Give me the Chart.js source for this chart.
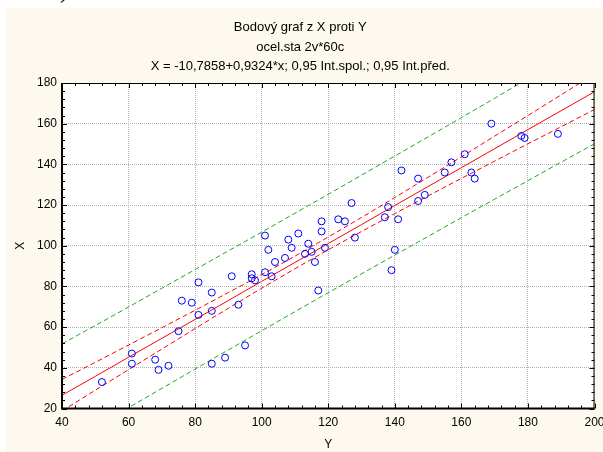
<!DOCTYPE html>
<html><head><meta charset="utf-8">
<style>
html,body{margin:0;padding:0;background:#fff;overflow:hidden}
#wrap{position:relative;width:603px;height:452px;overflow:hidden}
canvas{position:absolute;left:0;top:0}
.frag{position:absolute;font-family:'Liberation Serif',serif;font-size:28px;color:#000;line-height:28px}
</style>
<script src="https://cdn.jsdelivr.net/npm/chart.js@4/dist/chart.umd.min.js"></script>
</head><body>
<div id="wrap"><canvas id="c" width="603" height="452"></canvas>
<div class="frag" style="left:-3px;top:-28px">a.</div>
<div class="frag" style="left:60px;top:-26px">)</div>
</div>
<script>
// ---- data ----
// horizontal axis: variable Y, vertical axis: variable X (60 cases)
const varY = [52,61,61,68,69,72,75,76,79,81,81,85,85,93,85,89,95,91,97,97,98,101,102,101,103,104,107,108,109,111,113,114,115,116,118,118,119,117,123,125,127,128,137,138,141,140,139,142,147,147,149,155,157,161,163,164,169,178,179,189];
const varX = [33,47,42,44,39,41,58,73,72,82,66,77,68,71,42,45,51,85,86,84,83,105,98,87,85,92,94,103,99,106,96,101,97,92,112,107,99,78,113,112,121,104,114,119,113,98,88,137,133,122,125,136,141,145,136,133,160,154,153,155];
// band / fit values read along the horizontal axis
const bandAt   = [40,50,60,70,80,90,100,110,120,130,140,150,160,170,180,190,200];
const fitLine  = [26.5,35.8,45.2,54.5,63.8,73.1,82.5,91.8,101.1,110.4,119.8,129.1,138.4,147.7,157.1,166.4,175.7];
const confUp   = [34.3,42.7,51.2,59.7,68.3,77.0,85.8,94.9,104.3,113.9,123.7,133.7,143.7,153.9,164.0,174.2,184.4];
const confLow  = [18.8,29.0,39.1,49.2,59.3,69.3,79.1,88.7,98.0,107.0,115.8,124.5,133.1,141.6,150.1,158.5,167.0];
const predUp   = [51.8,60.8,69.9,79.1,88.3,97.5,106.7,116.0,125.3,134.7,144.1,153.5,163.0,172.5,182.1,191.6,201.3];
const predLow  = [1.3,10.8,20.4,29.9,39.4,48.8,58.2,67.6,76.9,86.2,95.4,104.6,113.8,122.9,132.0,141.1,150.1];
// axes
const xTicks = [40,60,80,100,120,140,160,180,200];
const yTicks = [20,40,60,80,100,120,140,160,180];
const titleLines = ['Bodový graf z X proti Y','ocel.sta 2v*60c','X = -10,7858+0,9324*x; 0,95 Int.spol.; 0,95 Int.před.'];
const xTitle = 'Y';
const yTitle = 'X';

const pts = (xs, ys) => xs.map((v, i) => ({x: v, y: ys[i]}));
const FONT = "'Liberation Sans', Arial, sans-serif";

const framePlugin = {
  id: 'frame',
  beforeDraw(chart) {
    const ctx = chart.ctx, a = chart.chartArea;
    ctx.save();
    ctx.fillStyle = '#ffffff';
    ctx.fillRect(0, 0, chart.width, chart.height);
    ctx.fillStyle = '#fdf9ee';
    ctx.fillRect(6, 8, chart.width - 6, chart.height - 8);
    ctx.fillStyle = '#ffffff';
    ctx.fillRect(a.left, a.top, a.right - a.left, a.bottom - a.top);
    ctx.restore();
  },
  afterDatasetsDraw(chart) {
    const ctx = chart.ctx, a = chart.chartArea, xs = chart.scales.x, ys = chart.scales.y;
    ctx.save();
    ctx.strokeStyle = '#000';
    ctx.lineWidth = 1;
    ctx.beginPath();
    for (let v = xTicks[0]; v <= xTicks[xTicks.length - 1]; v += 4) {
      const px = Math.round(xs.getPixelForValue(v)) + 0.5;
      const L = ((v - xTicks[0]) % 20 === 0) ? 5 : 3;
      ctx.moveTo(px, a.bottom); ctx.lineTo(px, a.bottom - L);
      ctx.moveTo(px, a.top); ctx.lineTo(px, a.top + L);
    }
    for (let v = yTicks[0]; v <= yTicks[yTicks.length - 1]; v += 4) {
      const py = Math.round(ys.getPixelForValue(v)) + 0.5;
      const L = ((v - yTicks[0]) % 20 === 0) ? 5 : 3;
      ctx.moveTo(a.left, py); ctx.lineTo(a.left + L, py);
      ctx.moveTo(a.right, py); ctx.lineTo(a.right - L, py);
    }
    ctx.stroke();
    ctx.beginPath();
    ctx.moveTo(a.left, a.top + 0.5); ctx.lineTo(a.right, a.top + 0.5);
    ctx.moveTo(a.right - 0.5, a.top); ctx.lineTo(a.right - 0.5, a.bottom);
    ctx.stroke();
    ctx.lineWidth = 2;
    ctx.beginPath();
    ctx.moveTo(a.left, a.top); ctx.lineTo(a.left, a.bottom + 1);
    ctx.moveTo(a.left - 1, a.bottom); ctx.lineTo(a.right, a.bottom);
    ctx.stroke();
    ctx.restore();
  }
};

const lineDs = (label, ys, color, dash) => ({
  label, data: pts(bandAt, ys), showLine: true, borderColor: color, borderWidth: 1,
  borderDash: dash, pointRadius: 0, pointHoverRadius: 0, fill: false,
  cubicInterpolationMode: 'monotone', clip: 0
});

new Chart(document.getElementById('c'), {
  type: 'scatter',
  data: {
    datasets: [
      { label: 'data', data: pts(varY, varX), pointStyle: 'circle', pointRadius: 3.5,
        pointBorderColor: '#0000ff', pointBackgroundColor: 'rgba(0,0,0,0)', pointBorderWidth: 1,
        borderColor: '#0000ff', backgroundColor: 'rgba(0,0,0,0)', showLine: false },
      lineDs('fit', fitLine, '#ff0000', []),
      lineDs('confUp', confUp, '#ff0000', [5, 3]),
      lineDs('confLow', confLow, '#ff0000', [5, 3]),
      lineDs('predUp', predUp, '#1fa81f', [5, 3]),
      lineDs('predLow', predLow, '#1fa81f', [5, 3])
    ]
  },
  options: {
    responsive: false, animation: false, devicePixelRatio: 1,
    layout: { padding: { left: 6, right: 8.5, top: 8, bottom: 0 } },
    plugins: {
      legend: { display: false }, tooltip: { enabled: false },
      title: { display: true, text: titleLines, color: '#000',
        font: { family: FONT, size: 13, weight: 'normal', lineHeight: 1.5 },
        padding: { top: 10, bottom: 6.5 } }
    },
    scales: {
      x: {
        type: 'linear', min: xTicks[0], max: xTicks[xTicks.length - 1],
        afterBuildTicks: s => { s.ticks = xTicks.map(v => ({value: v})); },
        afterFit: s => { s.height = 43.5; s.paddingLeft = 0; s.paddingRight = 0; },
        grid: { color: '#b0b0b0', lineWidth: 1, drawTicks: false },
        border: { display: false, dash: [1, 1] },
        ticks: { color: '#000', font: { family: FONT, size: 12 }, padding: 7, maxRotation: 0, autoSkip: false },
        title: { display: true, text: xTitle, color: '#000', font: { family: FONT, size: 12 }, padding: { top: 0, bottom: 0 } }
      },
      y: {
        type: 'linear', min: yTicks[0], max: yTicks[yTicks.length - 1],
        afterBuildTicks: s => { s.ticks = yTicks.map(v => ({value: v})); },
        afterFit: s => { s.width = 56; s.paddingTop = 0; s.paddingBottom = 0; },
        grid: { color: '#b0b0b0', lineWidth: 1, drawTicks: false },
        border: { display: false, dash: [1, 1] },
        ticks: { color: '#000', font: { family: FONT, size: 12 }, padding: 5, autoSkip: false },
        title: { display: true, text: yTitle, color: '#000', font: { family: FONT, size: 12 }, padding: { top: 7, bottom: 0 } }
      }
    }
  },
  plugins: [framePlugin]
});
</script>
</body></html>
